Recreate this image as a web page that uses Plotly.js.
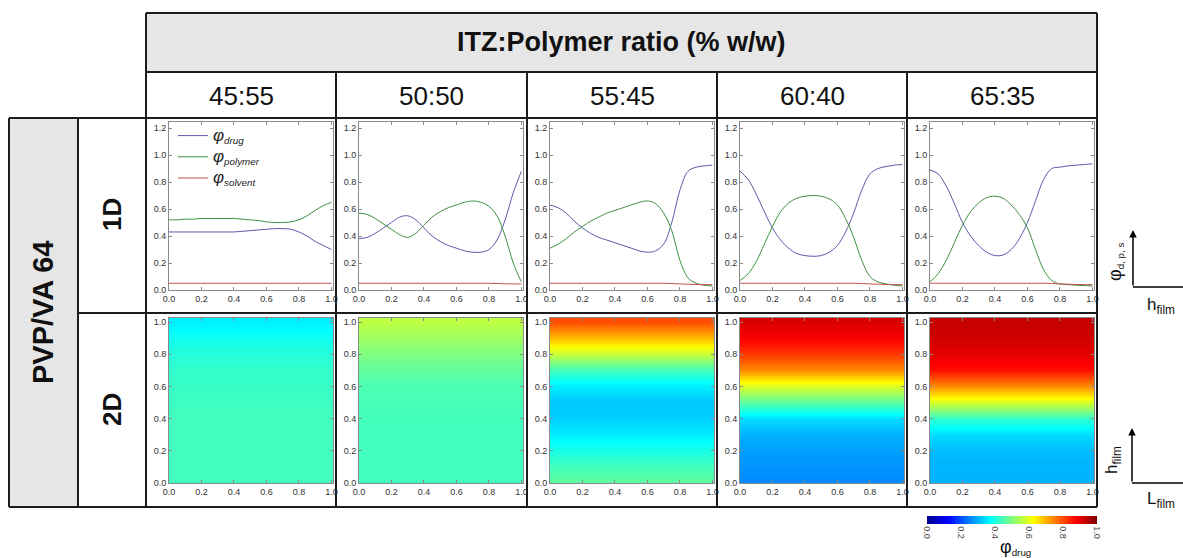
<!DOCTYPE html>
<html><head><meta charset="utf-8">
<script src="https://cdn.plot.ly/plotly-3.0.1.min.js"></script>
<style>html,body{margin:0;padding:0;background:#fff}</style>
</head><body>
<div id="chart" style="width:1183px;height:558px"></div>
<script>
// ---------- DATA ----------
const ratios = ['45:55', '50:50', '55:45', '60:40', '65:35'];
const hFilm1D = [0, 0.05, 0.1, 0.15, 0.2, 0.25, 0.3, 0.35, 0.4, 0.45, 0.5, 0.55, 0.6, 0.65, 0.7, 0.75, 0.8, 0.85, 0.9, 0.95, 1.0];

const drug_4555 = [0.43,0.43,0.43,0.43,0.43,0.43,0.43,0.43,0.43,0.435,0.44,0.445,0.45,0.455,0.455,0.45,0.43,0.40,0.36,0.33,0.30];
const poly_4555 = [0.52,0.52,0.525,0.525,0.53,0.53,0.53,0.53,0.53,0.525,0.52,0.515,0.505,0.50,0.50,0.505,0.52,0.55,0.59,0.625,0.65];
const solv_4555 = [0.05,0.05,0.05,0.05,0.05,0.05,0.05,0.05,0.05,0.05,0.05,0.05,0.05,0.05,0.05,0.05,0.05,0.05,0.05,0.05,0.05];

const drug_5050 = [0.38,0.39,0.42,0.46,0.50,0.54,0.55,0.52,0.46,0.40,0.36,0.33,0.31,0.29,0.28,0.28,0.30,0.37,0.52,0.72,0.88];
const poly_5050 = [0.57,0.56,0.53,0.49,0.45,0.41,0.39,0.42,0.48,0.54,0.58,0.61,0.63,0.65,0.66,0.65,0.62,0.55,0.40,0.20,0.06];
const solv_5050 = [0.05,0.05,0.05,0.05,0.05,0.05,0.05,0.05,0.05,0.05,0.05,0.05,0.05,0.05,0.05,0.05,0.05,0.048,0.046,0.045,0.045];

const drug_5545 = [0.63,0.61,0.57,0.51,0.46,0.42,0.39,0.37,0.35,0.33,0.31,0.29,0.28,0.29,0.34,0.50,0.74,0.88,0.91,0.92,0.925];
const poly_5545 = [0.31,0.34,0.38,0.43,0.47,0.51,0.54,0.57,0.59,0.61,0.63,0.65,0.66,0.64,0.57,0.44,0.22,0.09,0.05,0.035,0.03];
const solv_5545 = [0.05,0.05,0.05,0.05,0.05,0.05,0.05,0.05,0.05,0.05,0.05,0.05,0.05,0.05,0.05,0.048,0.045,0.043,0.041,0.04,0.04];

const drug_6040 = [0.88,0.82,0.71,0.58,0.46,0.37,0.31,0.27,0.255,0.25,0.255,0.28,0.33,0.43,0.57,0.74,0.86,0.90,0.915,0.925,0.93];
const poly_6040 = [0.07,0.12,0.21,0.34,0.47,0.58,0.645,0.68,0.695,0.70,0.695,0.675,0.63,0.53,0.39,0.22,0.10,0.06,0.045,0.035,0.03];
const solv_6040 = [0.05,0.05,0.05,0.05,0.05,0.05,0.05,0.05,0.05,0.05,0.05,0.05,0.05,0.05,0.05,0.048,0.045,0.043,0.041,0.04,0.04];

const drug_6535 = [0.89,0.86,0.77,0.64,0.50,0.40,0.33,0.28,0.255,0.26,0.30,0.38,0.50,0.66,0.82,0.90,0.91,0.92,0.925,0.93,0.935];
const poly_6535 = [0.06,0.12,0.22,0.35,0.48,0.58,0.645,0.685,0.695,0.68,0.63,0.56,0.46,0.30,0.15,0.07,0.045,0.04,0.035,0.033,0.03];
const solv_6535 = [0.05,0.05,0.05,0.05,0.05,0.05,0.05,0.05,0.05,0.05,0.05,0.05,0.05,0.05,0.05,0.048,0.045,0.043,0.041,0.04,0.04];

// 2D maps: phi_drug versus film height (uniform along film length)
const hFilm2D = [0, 0.1, 0.2, 0.3, 0.4, 0.5, 0.6, 0.7, 0.8, 0.9, 1.0];
const lFilm2D = [0, 1.02];
const map_4555 = [0.44,0.44,0.44,0.44,0.44,0.435,0.43,0.425,0.41,0.39,0.36];
const map_5050 = [0.44,0.44,0.44,0.44,0.44,0.445,0.45,0.47,0.50,0.53,0.56];
const map_5545 = [0.47,0.44,0.40,0.36,0.33,0.32,0.36,0.44,0.57,0.69,0.80];
const map_6040 = [0.26,0.27,0.28,0.30,0.34,0.46,0.59,0.74,0.82,0.88,0.91];
const map_6535 = [0.30,0.30,0.31,0.34,0.42,0.58,0.74,0.86,0.90,0.92,0.93];

const seriesNames = ['<span style="font-size:17px"><i>φ</i></span><sub><i>drug</i></sub>',
                     '<span style="font-size:17px"><i>φ</i></span><sub><i>polymer</i></sub>',
                     '<span style="font-size:17px"><i>φ</i></span><sub><i>solvent</i></sub>'];
const xTickVals = [0, 0.2, 0.4, 0.6, 0.8, 1.0];
const cbTickVals = [0, 0.2, 0.4, 0.6, 0.8, 1.0];
const cbTickText = ['0.0', '0.2', '0.4', '0.6', '0.8', '1.0'];

// ---------- BUILD ----------
const W = 1183, H = 558;
const X = px => px / W;
const Y = py => 1 - py / H;

const drugs = [drug_4555, drug_5050, drug_5545, drug_6040, drug_6535];
const polys = [poly_4555, poly_5050, poly_5545, poly_6040, poly_6535];
const solvs = [solv_4555, solv_5050, solv_5545, solv_6040, solv_6535];
const maps = [map_4555, map_5050, map_5545, map_6040, map_6535];
const lineColors = ['#5a5aa8', '#3f8f3f', '#c25050'];

const colBorders = [146, 336, 527, 717, 907, 1097];
const traces = [];
const layout = {
  width: W, height: H,
  margin: {l: 0, r: 0, t: 0, b: 0, pad: 0},
  paper_bgcolor: '#fff', plot_bgcolor: '#fff',
  font: {family: 'Liberation Sans, Arial, sans-serif', color: '#222'},
  showlegend: true,
  legend: {x: X(173), y: Y(120), xanchor: 'left', yanchor: 'top', bgcolor: 'rgba(0,0,0,0)',
           font: {family: 'Liberation Sans, Arial, sans-serif', size: 14, color: '#222'},
           traceorder: 'normal', tracegroupgap: 0, itemwidth: 30, borderwidth: 0},
  coloraxis: {
    cmin: 0, cmax: 1,
    colorscale: [[0, 'rgb(0,0,143)'], [0.125, 'rgb(0,0,255)'], [0.375, 'rgb(0,255,255)'],
                 [0.625, 'rgb(255,255,0)'], [0.875, 'rgb(255,0,0)'], [1, 'rgb(128,0,0)']],
    colorbar: {orientation: 'h', x: X(1012), xanchor: 'center', y: Y(516), yanchor: 'top',
               len: 170, lenmode: 'pixels', thickness: 8, thicknessmode: 'pixels',
               outlinewidth: 0, xpad: 0, ypad: 0, ticks: '',
               tickvals: cbTickVals, ticktext: cbTickText, tickangle: 90,
               tickfont: {family: 'Liberation Sans, Arial, sans-serif', size: 9, color: '#444'}}
  },
  shapes: [], annotations: []
};

const axisBase = {
  showline: true, linecolor: '#8a8a8a', linewidth: 1, mirror: 'ticks',
  ticks: 'inside', ticklen: 3, tickcolor: '#8a8a8a', tickwidth: 1,
  showgrid: false, zeroline: false, fixedrange: true,
  tickfont: {family: 'Liberation Sans, Arial, sans-serif', size: 9, color: '#333'},
  tickformat: '.1f'
};

for (let i = 0; i < 5; i++) {
  const left = colBorders[i] + 23, right = left + 164;
  const n1 = i + 1;
  const ax1 = n1 === 1 ? '' : String(n1);
  layout['xaxis' + ax1] = Object.assign({}, axisBase, {domain: [X(left), X(right)], anchor: 'y' + ax1,
    range: [0, 1.01], tickvals: xTickVals});
  layout['yaxis' + ax1] = Object.assign({}, axisBase, {domain: [Y(290), Y(122)], anchor: 'x' + ax1,
    range: [0, 1.245], dtick: 0.2, tick0: 0});
  const series = [drugs[i], polys[i], solvs[i]];
  series.forEach((ys, k) => {
    traces.push({type: 'scatter', mode: 'lines', x: hFilm1D, y: ys, name: seriesNames[k],
      line: {color: lineColors[k], width: 1, shape: 'spline', smoothing: 1},
      xaxis: 'x' + ax1, yaxis: 'y' + ax1, showlegend: i === 0, hoverinfo: 'skip'});
  });
  const n2 = i + 6;
  layout['xaxis' + n2] = Object.assign({}, axisBase, {domain: [X(left), X(right)], anchor: 'y' + n2,
    range: [0, 1.01], tickvals: xTickVals});
  layout['yaxis' + n2] = Object.assign({}, axisBase, {domain: [Y(483), Y(318)], anchor: 'x' + n2,
    range: [0, 1.025], dtick: 0.2, tick0: 0});
  traces.push({type: 'heatmap', x: lFilm2D, y: hFilm2D, z: maps[i].map(v => [v, v]),
    coloraxis: 'coloraxis', zsmooth: 'best', xaxis: 'x' + n2, yaxis: 'y' + n2,
    showlegend: false, hoverinfo: 'skip'});
}

// ---------- TABLE ----------
const border = '#1c1c1c';
function rect(x0, y0, x1, y1, fill) {
  layout.shapes.push({type: 'rect', xref: 'paper', yref: 'paper', x0: X(x0), x1: X(x1), y0: Y(y1), y1: Y(y0),
    fillcolor: fill, line: {width: 0}, layer: 'below'});
}
function line(x0, y0, x1, y1, w, c) {
  layout.shapes.push({type: 'line', xref: 'paper', yref: 'paper', x0: X(x0), x1: X(x1), y0: Y(y0), y1: Y(y1),
    line: {color: c || border, width: w || 2}, layer: 'above'});
}
rect(146, 13, 1097, 72, '#e6e6e6');
rect(9, 118, 78, 507, '#e6e6e6');
line(146, 13, 1097, 13);
line(146, 72, 1097, 72);
line(9, 118, 1097, 118);
line(78, 313, 1097, 313);
line(9, 507, 1097, 507);
line(9, 118, 9, 507);
line(78, 118, 78, 507);
colBorders.forEach((b, j) => line(b, j === 0 || j === 5 ? 13 : 72, b, 507));

// ---------- TEXT ----------
const fam = 'Liberation Sans, Arial, sans-serif';
function txt(text, x, y, size, opts) {
  layout.annotations.push(Object.assign({text: text, xref: 'paper', yref: 'paper', x: X(x), y: Y(y),
    showarrow: false, xanchor: 'center', yanchor: 'middle',
    font: {family: fam, size: size, color: '#111'}}, opts || {}));
}
txt('<b>ITZ:Polymer ratio (% w/w)</b>', 621, 42, 27);
ratios.forEach((r, j) => txt(r, (colBorders[j] + colBorders[j + 1]) / 2, 96, 26));
txt('<b>PVP/VA 64</b>', 43, 313, 29, {textangle: -90});
txt('<b>1D</b>', 112, 215, 26, {textangle: -90});
txt('<b>2D</b>', 112, 410, 26, {textangle: -90});

// right-side axis icons
txt('<span style="font-size:18px">φ</span><sub>d, p, s</sub>', 1115, 262, 14, {textangle: -90});
txt('h<sub>film</sub>', 1161, 306, 17);
txt('h<sub>film</sub>', 1113, 460, 17, {textangle: -90});
txt('L<sub>film</sub>', 1161, 500, 17);
txt('<span style="font-size:18px">φ</span><sub>drug</sub>', 1015, 547, 14);

function arrow(xh, yh, ax, ay) {
  layout.annotations.push({text: '', xref: 'paper', yref: 'paper', x: X(xh), y: Y(yh), ax: ax, ay: ay,
    showarrow: true, arrowhead: 2, arrowsize: 1, arrowwidth: 1.5, arrowcolor: '#000'});
}
arrow(1133, 230, 0, 57);
line(1133, 287, 1186, 287, 1.5, '#000');
arrow(1132, 428, 0, 55);
line(1132, 483, 1186, 483, 1.5, '#000');

Plotly.newPlot('chart', traces, layout, {displayModeBar: false, staticPlot: true});
</script>
</body></html>
